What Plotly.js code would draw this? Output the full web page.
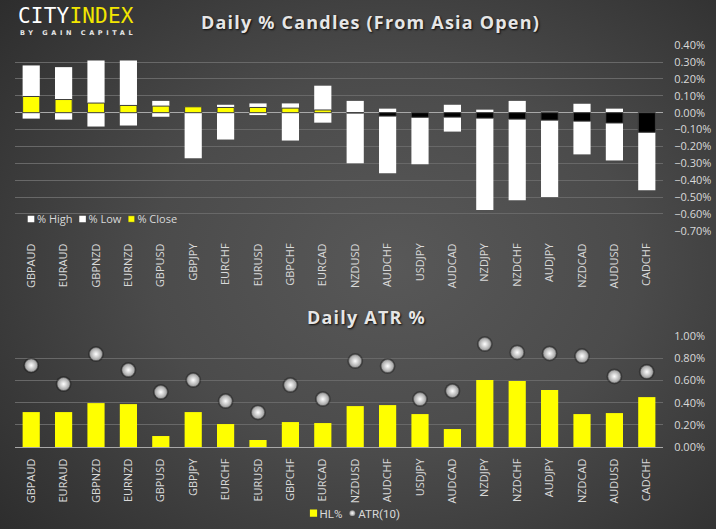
<!DOCTYPE html>
<html><head><meta charset="utf-8">
<script src="https://cdn.plot.ly/plotly-3.0.1.min.js"></script>
<style>
html,body{margin:0;padding:0;width:716px;height:529px;overflow:hidden;}
body{background: radial-gradient(ellipse 75% 80% at 55% 50%, #585858 0%, #4b4b4b 45%, #2b2b2b 100%);}
#chart{width:716px;height:529px;position:absolute;left:0;top:0}
#logo{position:absolute;left:18px;top:5px;font-family:'DejaVu Sans Mono',monospace;font-size:21px;line-height:22px;letter-spacing:0.2px;color:#fff;z-index:5}
#logo span{color:#f2e600}
#sub{position:absolute;left:20px;top:29px;font-family:'DejaVu Sans',sans-serif;font-weight:bold;font-size:6.5px;letter-spacing:3.6px;color:#e6e6e6;z-index:5}
.annotation-text{letter-spacing:1.2px}
</style></head>
<body>
<div id="logo">CITY<span>INDEX</span></div>
<div id="sub">BY GAIN CAPITAL</div>
<div id="chart"></div>
<script>
const categories = ['GBPAUD','EURAUD','GBPNZD','EURNZD','GBPUSD','GBPJPY','EURCHF','EURUSD','GBPCHF','EURCAD','NZDUSD','AUDCHF','USDJPY','AUDCAD','NZDJPY','NZDCHF','AUDJPY','NZDCAD','AUDUSD','CADCHF'];
const highPct  = [0.28, 0.27, 0.31, 0.31, 0.07, 0.035, 0.047, 0.055, 0.055, 0.16, 0.07, 0.024, -0.003, 0.047, 0.018, 0.07, 0.006, 0.053, 0.024, -0.003];
const lowPct   = [-0.035,-0.041,-0.082,-0.076,-0.024,-0.27,-0.159,-0.014,-0.165,-0.059,-0.30,-0.359,-0.306,-0.112,-0.576,-0.518,-0.50,-0.247,-0.283,-0.459];
const closePct = [0.096, 0.078, 0.057, 0.043, 0.039, 0.035, 0.031, 0.031, 0.027, 0.016, -0.002, -0.02, -0.027, -0.026, -0.032, -0.038, -0.044, -0.05, -0.061, -0.116];
const hlPct    = [0.315, 0.315, 0.396, 0.387, 0.099, 0.315, 0.207, 0.063, 0.225, 0.216, 0.369, 0.378, 0.297, 0.162, 0.604, 0.595, 0.514, 0.297, 0.306, 0.45];
const atrPct   = [0.736, 0.568, 0.838, 0.694, 0.495, 0.604, 0.414, 0.312, 0.559, 0.432, 0.775, 0.73, 0.432, 0.505, 0.928, 0.853, 0.844, 0.82, 0.637, 0.678];

const YEL = '#ffff00';
const tickFont = {family:'Open Sans, sans-serif', size:11, color:'#d9d9d9'};
const closeColors = closePct.map(v => v >= 0 ? YEL : '#000000');
const catRange = [-0.5, categories.length - 0.5];

const traces = [
  {type:'bar', name:'% High', x:categories, y:highPct, base:0, xaxis:'x', yaxis:'y',
   marker:{color:'#ffffff', line:{width:0}}, hoverinfo:'skip', legend:'legend'},
  {type:'bar', name:'% Low', x:categories, y:lowPct, base:0, xaxis:'x', yaxis:'y',
   marker:{color:'#ffffff', line:{width:0}}, hoverinfo:'skip', legend:'legend'},
  {type:'bar', name:'% Close', x:categories, y:closePct, base:0, xaxis:'x', yaxis:'y',
   marker:{color:closeColors, line:{width:1, color:'#3a3a3a'}}, hoverinfo:'skip', legend:'legend'},
  {type:'bar', name:'HL%', x:categories, y:hlPct, xaxis:'x2', yaxis:'y2',
   marker:{color:YEL, line:{width:0}}, hoverinfo:'skip', legend:'legend2'},
  {type:'scatter', mode:'markers', name:'ATR(10)', x:categories, y:atrPct, xaxis:'x2', yaxis:'y2',
   marker:{size:16, color:'rgba(0,0,0,0.28)', line:{width:0}}, hoverinfo:'skip', showlegend:false, legend:'legend2'},
  {type:'scatter', mode:'markers', name:'ATR(10)', x:categories, y:atrPct, xaxis:'x2', yaxis:'y2',
   marker:{size:13, color:'#9c9c9c', gradient:{type:'radial', color:'#ffffff'}, line:{width:0.5, color:'#555555'}},
   hoverinfo:'skip', legend:'legend2'}
];

const layout = {
  width:716, height:529,
  margin:{l:15, r:53, t:0, b:0},
  paper_bgcolor:'rgba(0,0,0,0)', plot_bgcolor:'rgba(0,0,0,0)',
  barmode:'overlay', bargap:0.47,
  showlegend:true,
  xaxis:{domain:[0,1], anchor:'y', type:'category', range:catRange, tickangle:-90, tickfont:tickFont,
         showgrid:false, zeroline:false, showline:false, ticks:'outside', ticklen:7, tickcolor:'rgba(0,0,0,0)', fixedrange:true},
  yaxis:{domain:[0.5633,0.9149], range:[-0.701,0.401], side:'right', tick0:0, dtick:0.1,
         tickformat:'.2f', ticksuffix:'%', gridcolor:'#686868', gridwidth:1,
         zeroline:true, zerolinecolor:'#a8a8a8', zerolinewidth:1.2,
         ticks:'outside', ticklen:8, tickcolor:'rgba(0,0,0,0)', tickfont:tickFont, fixedrange:true},
  xaxis2:{domain:[0,1], anchor:'y2', type:'category', range:catRange, tickangle:-90, tickfont:tickFont,
          showgrid:false, zeroline:false, showline:true, linecolor:'#a8a8a8', linewidth:1.2,
          ticks:'outside', ticklen:6, tickcolor:'rgba(0,0,0,0)', fixedrange:true},
  yaxis2:{domain:[0.155,0.3648], range:[0,1.001], side:'right', tick0:0, dtick:0.2,
          tickformat:'.2f', ticksuffix:'%', gridcolor:'#686868', gridwidth:1, zeroline:false,
          ticks:'outside', ticklen:8, tickcolor:'rgba(0,0,0,0)', tickfont:tickFont, fixedrange:true},
  legend:{orientation:'h', x:0.0, xanchor:'left', y:0.586, yanchor:'middle',
          font:tickFont, bgcolor:'rgba(0,0,0,0)', itemwidth:30, tracegroupgap:0},
  legend2:{orientation:'h', x:0.523, xanchor:'center', y:0.03, yanchor:'middle',
           font:{family:'Liberation Sans Narrow, Roboto, sans-serif', size:11.5, color:'#d9d9d9'}, bgcolor:'rgba(0,0,0,0)', itemwidth:30},
  annotations:[
    {text:'Daily % Candles (From Asia Open)', xref:'paper', yref:'paper', x:0.548, y:0.958, xanchor:'center', yanchor:'middle', showarrow:false,
     font:{family:'Open Sans, sans-serif', size:18, weight:'bold', color:'#e6e6e6', shadow:'1px 1px 2px rgba(0,0,0,0.85)'}},
    {text:'Daily ATR %', xref:'paper', yref:'paper', x:0.542, y:0.4008, xanchor:'center', yanchor:'middle', showarrow:false,
     font:{family:'Open Sans, sans-serif', size:18, weight:'bold', color:'#e6e6e6', shadow:'1px 1px 2px rgba(0,0,0,0.85)'}}
  ]
};

// compact legend entries (Excel-style: small symbol right next to its text)
function parseTr(s) {
  const m = (s || '').match(/translate\(\s*([-\d.e]+)(?:[ ,]+([-\d.e]+))?\s*\)/);
  return m ? [parseFloat(m[1]), m[2] !== undefined ? parseFloat(m[2]) : 0] : [0, 0];
}
function compactLegend(gd, cls, firstCenterX, barScale, markerScale) {
  const groups = Array.from(gd.querySelectorAll('g.' + cls)).filter(g => g.querySelector('g.traces text'));
  const lg = groups[0];
  if (!lg) return;
  const items = lg.querySelectorAll('g.traces');
  let x = 0;
  items.forEach(it => {
    const y = parseTr(it.getAttribute('transform'))[1];
    it.setAttribute('transform', 'translate(' + x + ',' + y + ')');
    it.querySelectorAll('g.legendpoints path').forEach(p => {
      const isBar = !p.classList.contains('scatterpts');
      p.setAttribute('transform', 'translate(20,0) scale(' + (isBar ? barScale : markerScale) + ')');
    });
    const t = it.querySelector('text');
    let len = 30;
    if (t) {
      t.setAttribute('x', 26);
      t.querySelectorAll('tspan').forEach(s => { if (s.hasAttribute('x')) s.setAttribute('x', 26); });
      len = t.getComputedTextLength();
    }
    x += 26 + len - 10;
  });
  const ly = parseTr(lg.getAttribute('transform'))[1];
  lg.setAttribute('transform', 'translate(' + (firstCenterX - 20) + ',' + ly + ')');
}

Plotly.newPlot('chart', traces, layout, {displayModeBar:false, staticPlot:true}).then(gd => {
  compactLegend(gd, 'legend', 31, 0.55, 0.45);
  compactLegend(gd, 'legend2', 313.5, 0.6, 0.45);
});
</script>
</body></html>
